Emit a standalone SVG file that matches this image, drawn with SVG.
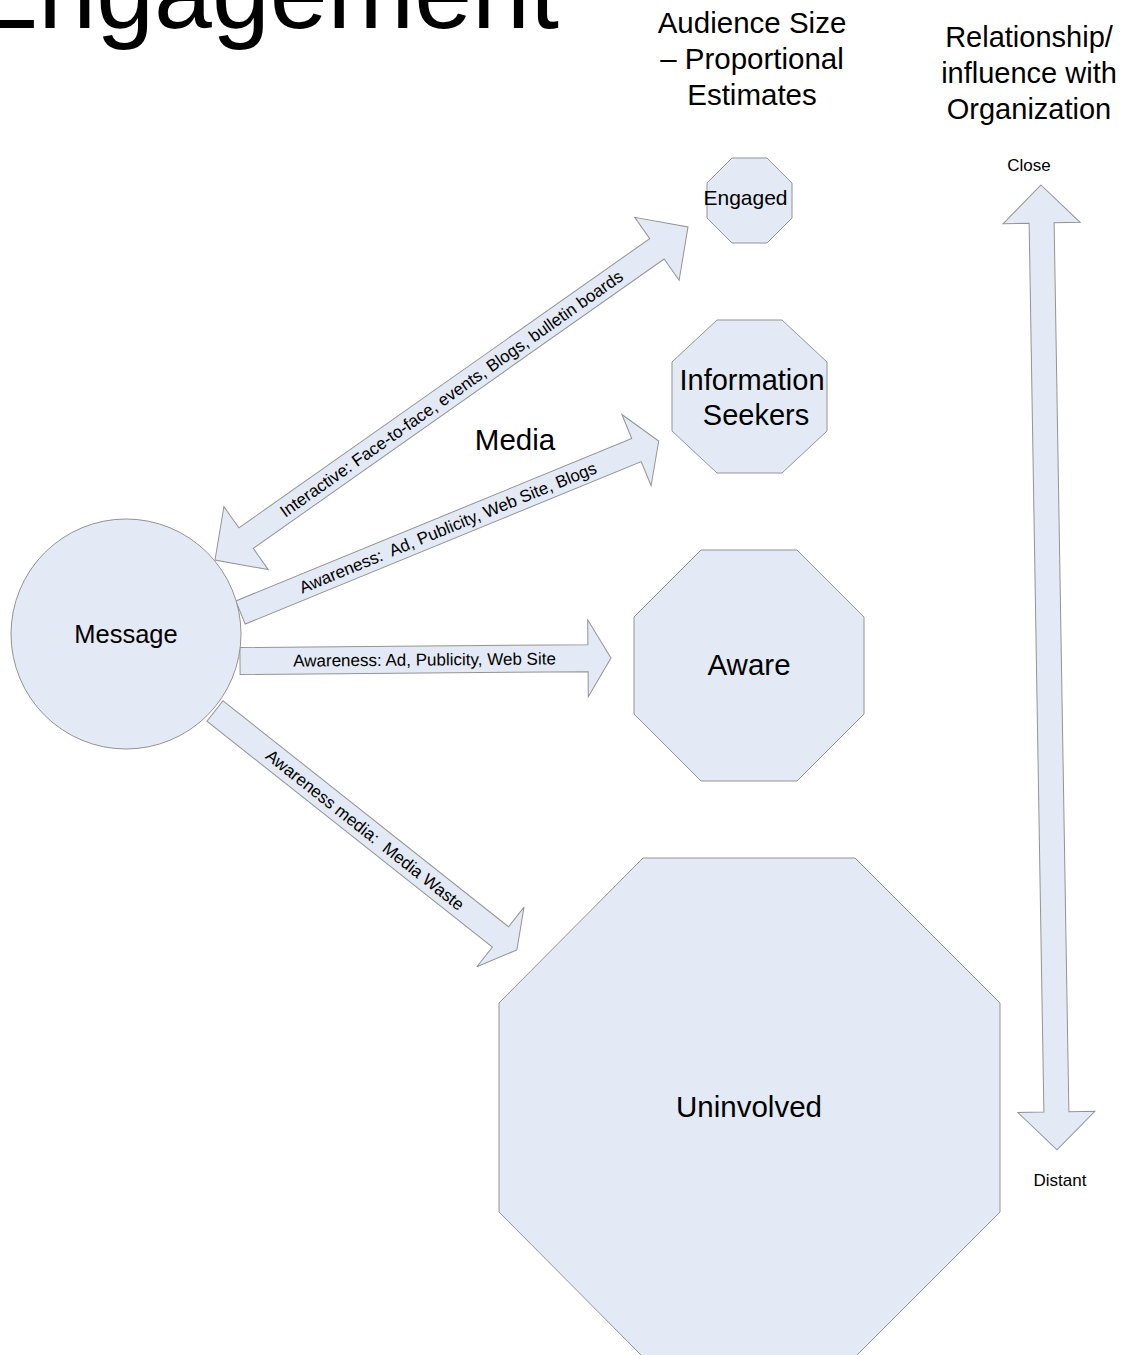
<svg xmlns="http://www.w3.org/2000/svg" width="1131" height="1355" viewBox="0 0 1131 1355">
<style>
.shape{fill:#E4EAF5;stroke:#939393;stroke-width:1}
.t{font-family:"Liberation Sans",Arial,sans-serif;fill:#000}
.lbl{font-family:"Liberation Sans",Arial,sans-serif;fill:#000;font-size:17px;text-anchor:middle}
.c{text-anchor:middle}
</style>
<rect width="1131" height="1355" fill="#fff"/>
<g id="title"><text class="t" x="-31" y="28" font-size="104">Engagement</text></g>
<g id="header-audience" class="t c" font-size="29.5">
<text class="t c" x="752" y="33" font-size="29.5">Audience Size</text>
<text class="t c" x="752" y="69" font-size="29.5">– Proportional</text>
<text class="t c" x="752" y="105" font-size="29.5">Estimates</text>
</g>
<g id="header-relationship">
<text class="t c" x="1029" y="47" font-size="29">Relationship/</text>
<text class="t c" x="1029" y="83" font-size="29">influence with</text>
<text class="t c" x="1029" y="119" font-size="29">Organization</text>
</g>
<g id="media-label"><text class="t c" x="515" y="450" font-size="29.5">Media</text></g>

<g id="connectors">
<g id="arrow-interactive" transform="translate(215,560) rotate(-35.15)">
<polygon class="shape" points="0,0 38,-38.5 38,-12.5 540.5,-12.5 540.5,-38.5 578.5,0 540.5,38.5 540.5,12.5 38,12.5 38,38.5"/>
<text class="lbl" x="289" y="6">Interactive: Face-to-face, events, Blogs, bulletin boards</text>
</g>
<g id="arrow-seekers" transform="translate(240.5,612.5) rotate(-22.3)">
<polygon class="shape" points="0,-12.5 428,-12.5 428,-38.5 452,0 428,38.5 428,12.5 0,12.5"/>
<text class="lbl" x="224" y="6" xml:space="preserve">Awareness:  Ad, Publicity, Web Site, Blogs</text>
</g>
<g id="arrow-aware" transform="translate(240,661) rotate(-0.46)">
<polygon class="shape" points="0,-13.5 348,-13.5 348,-38.5 371,0 348,38.5 348,13.5 0,13.5"/>
<text class="lbl" x="184.5" y="6">Awareness: Ad, Publicity, Web Site</text>
</g>
<g id="arrow-uninvolved" transform="translate(215,711) rotate(38.36)">
<polygon class="shape" points="0,-13 364,-13 364,-38 385,0 364,38 364,13 0,13"/>
<text class="lbl" x="191.5" y="6" xml:space="preserve">Awareness media:  Media Waste</text>
</g>
<g id="arrow-relationship" transform="translate(1041,185) rotate(89.05)">
<polygon class="shape" points="0,0 38,-38.5 38,-12.5 927,-12.5 927,-38.5 965,0 927,38.5 927,12.5 38,12.5 38,38.5"/>
</g>
</g>

<g id="node-message">
<circle class="shape" cx="126" cy="634" r="115"/>
<text class="t c" x="126" y="643" font-size="25.5">Message</text>
</g>
<g id="node-engaged">
<polygon class="shape" points="732,158 767,158 792,183 792,218 767,243 732,243 707,218 707,183"/>
<text class="t c" x="745.5" y="205" font-size="21">Engaged</text>
</g>
<g id="node-seekers">
<polygon class="shape" points="717,320 782,320 827,362 827,431 782,473 717,473 672,431 672,362"/>
<text class="t c" x="752" y="390" font-size="29">Information</text>
<text class="t c" x="756" y="425" font-size="29">Seekers</text>
</g>
<g id="node-aware">
<polygon class="shape" points="701,550 797,550 864,617 864,714 797,781 701,781 634,714 634,617"/>
<text class="t c" x="749" y="675" font-size="29.5">Aware</text>
</g>
<g id="node-uninvolved">
<polygon class="shape" points="643,858 855,858 1000,1003 1000,1212 855,1357 643,1357 499,1212 499,1003"/>
<text class="t c" x="749" y="1117" font-size="29.5">Uninvolved</text>
</g>
<g id="scale-labels">
<text class="t c" x="1029" y="171" font-size="17">Close</text>
<text class="t c" x="1060" y="1186" font-size="17">Distant</text>
</g>
</svg>
